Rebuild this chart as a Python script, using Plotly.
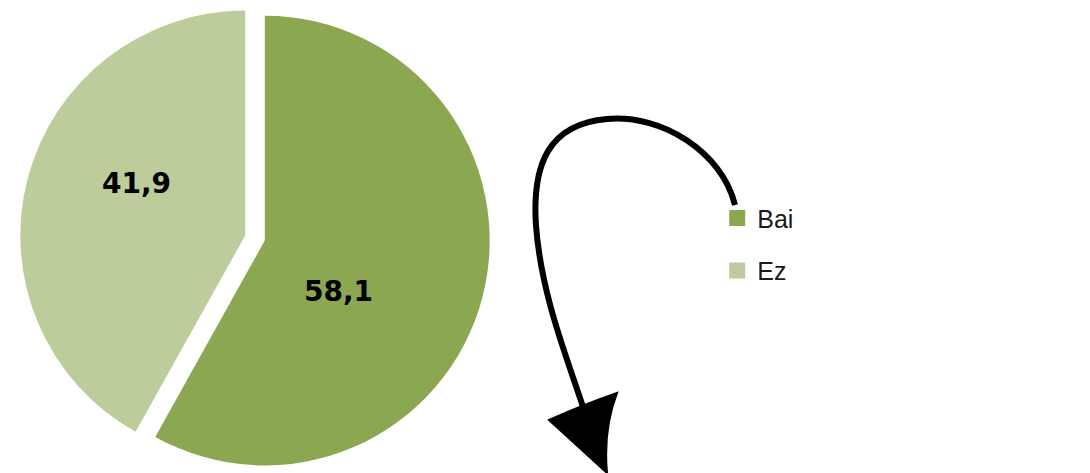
import plotly.graph_objects as go

W, H = 1090, 473
TOP = 3

labels = ["Bai", "Ez"]
values = [58.1, 41.9]
colors = ["#8BA752", "#BCCD9B"]


def px(x, y):
    # pixel -> paper coords (plot area starts TOP px below the page top)
    return x / W, 1 - (y - TOP) / (H - TOP)


def path(cmds):
    out = []
    for c in cmds:
        if isinstance(c, str):
            out.append(c)
        else:
            x, y = px(*c)
            out.append(f"{x:.4f},{y:.4f}")
    return " ".join(out)


fig = go.Figure()

fig.add_trace(go.Pie(
    labels=labels,
    values=values,
    sort=False,
    direction="clockwise",
    rotation=0,
    pull=[0.045, 0.045],
    marker=dict(colors=colors, line=dict(width=0)),
    textinfo="none",
    domain=dict(x=[0, 510 / W], y=[0, 1]),
    showlegend=False,
    hoverinfo="label+value",
))

# legend entries as square markers, one group each to get the wide spacing
for lab, col in zip(labels, colors):
    fig.add_trace(go.Scatter(
        x=[None], y=[None], mode="markers", name=lab,
        legendgroup=lab,
        marker=dict(symbol="square", size=18, color=col),
    ))

# value labels, placed where the original puts them
label_pos = {"Bai": (338, 291), "Ez": (136, 183)}
annotations = []
for lab, val in zip(labels, values):
    x, y = px(*label_pos[lab])
    annotations.append(dict(
        x=x, y=y, xref="paper", yref="paper", showarrow=False,
        xanchor="center", yanchor="middle",
        text=f"{val:.1f}".replace(".", ","),
        font=dict(family="DejaVu Sans", size=28, color="black", weight="bold"),
    ))

arrow_line = path(["M", (735, 205), "C", (722, 152), (662, 114), (607, 119),
                   "C", (548, 124), (532, 165), (536, 225),
                   "C", (541, 295), (568, 360), (584, 410)])
arrow_head = path(["M", (549, 420), "Q", (585, 404), (617, 393),
                   "Q", (603, 430), (607, 473), "Z"])

fig.update_layout(
    width=W, height=H,
    margin=dict(l=0, r=0, t=TOP, b=0),
    paper_bgcolor="white",
    plot_bgcolor="white",
    xaxis=dict(visible=False),
    yaxis=dict(visible=False),
    legend=dict(
        x=0.658, y=0.591, xanchor="left", yanchor="top",
        font=dict(family="Liberation Sans", size=25, color="#1a1a1a"),
        tracegroupgap=17,
        itemsizing="trace",
        bgcolor="rgba(0,0,0,0)",
    ),
    annotations=annotations,
    shapes=[
        dict(type="path", xref="paper", yref="paper", path=arrow_line,
             line=dict(color="black", width=6)),
        dict(type="path", xref="paper", yref="paper", path=arrow_head,
             fillcolor="black", line=dict(color="black", width=2)),
    ],
)

fig.write_html(
    "out.html",
    config={"displayModeBar": False},
    post_script="document.body.style.margin='0px';",
)
